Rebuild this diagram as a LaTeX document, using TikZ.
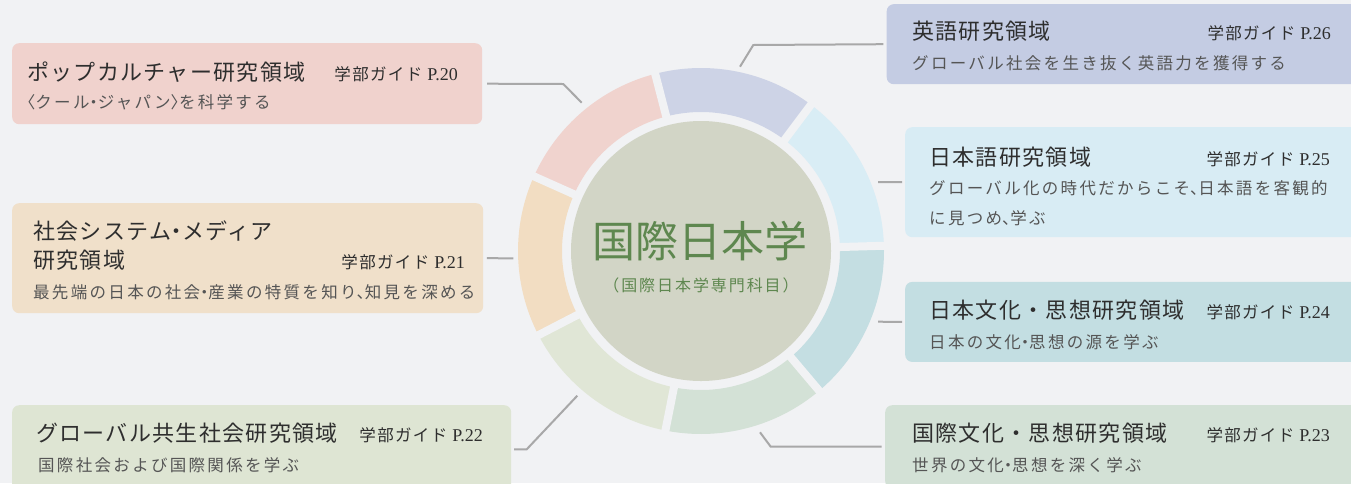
\documentclass[tikz,border=0pt]{standalone}
\usepackage{fontspec}
\newfontfamily\jp{Noto Sans CJK JP}
\newfontfamily\jpsub[LetterSpace=14]{Noto Sans CJK JP}
\newfontfamily\jpttl[LetterSpace=6]{Noto Sans CJK JP}
\newfontfamily\jpgd[LetterSpace=8]{Noto Sans CJK JP}
\newfontfamily\jpcs[LetterSpace=12]{Noto Sans CJK JP}
\newfontfamily\lat{Liberation Serif}
\newcommand\hw[1]{{\addfontfeature{RawFeature=+halt}#1}}
\newcommand\pg[1]{{\lat\fontsize{18}{20}\selectfont #1}}
\definecolor{bgc}{HTML}{F1F2F4}
\definecolor{popbox}{HTML}{F0D2CD}
\definecolor{popseg}{HTML}{F0D3CE}
\definecolor{socbox}{HTML}{F0E0CA}
\definecolor{socseg}{HTML}{F2DDC2}
\definecolor{glbox}{HTML}{DEE5D3}
\definecolor{glseg}{HTML}{E0E6D6}
\definecolor{enbox}{HTML}{C4CCE3}
\definecolor{enseg}{HTML}{CDD3E6}
\definecolor{jlbox}{HTML}{D8ECF4}
\definecolor{jlseg}{HTML}{D9EDF5}
\definecolor{jcbox}{HTML}{C3DEE2}
\definecolor{jcseg}{HTML}{C4DEE2}
\definecolor{icbox}{HTML}{D3E1D6}
\definecolor{icseg}{HTML}{D3E1D6}
\definecolor{disc}{HTML}{D2D5C6}
\definecolor{greentxt}{HTML}{5E874F}
\definecolor{titlec}{HTML}{2E2E2E}
\definecolor{subc}{HTML}{555555}
\definecolor{connc}{HTML}{A8A8A8}
\begin{document}
\begin{tikzpicture}[x=1pt,y=-1pt,
  box/.style={rounded corners=7pt, inner sep=0pt, anchor=north west, draw=none},
  ttl/.style={anchor=base west, inner sep=0pt, text=titlec, font=\jpttl\fontsize{22}{26}\selectfont},
  guide/.style={anchor=base east, inner sep=0pt, text=titlec, font=\jpgd\fontsize{16.5}{18}\selectfont},
  sub/.style={anchor=base west, inner sep=0pt, text=subc, font=\jpsub\fontsize{16.5}{20}\selectfont},
  conn/.style={draw=connc, line width=2pt, line join=miter}]
\useasboundingbox (0,0) rectangle (1351,483);
\clip (0,0) rectangle (1351,483);
\fill[bgc] (0,0) rectangle (1351,483);

% ring
\begin{scope}[shift={(701,251)}, x=1pt, y=1pt]
\foreach \i/\col in {0/enseg,1/jlseg,2/jcseg,3/icseg,4/glseg,5/socseg,6/popseg}{
  \pgfmathsetmacro\sa{104.5-51.4286*\i}
  \pgfmathsetmacro\ea{\sa-51.4286}
  \fill[\col] (\sa:183) arc[start angle=\sa, end angle=\ea, radius=183]
     -- (\ea:139) arc[start angle=\ea, end angle=\sa, radius=139] -- cycle;
}
\foreach \i in {0,...,6}{
  \pgfmathsetmacro\sa{104.5-51.4286*\i}
  \draw[bgc, line width=8pt] (\sa:132) -- (\sa:190);
}
\fill[disc] (0,0) circle[radius=130];
\end{scope}
\node[inner sep=0pt, anchor=base, text=greentxt, font=\jp\fontsize{43}{46}\selectfont] (core) at (700,257.5) {国際日本学};
\node[inner sep=0pt, anchor=base, text=greentxt, font=\jpcs\fontsize{16}{18}\selectfont] (coresub) at (701,291) {（国際日本学専門科目）};

% boxes
\node[box, fill=popbox, minimum width=470pt, minimum height=81pt] (pop) at (12,43) {};
\node[box, fill=socbox, minimum width=471pt, minimum height=110pt] (soc) at (12,203) {};
\node[box, fill=glbox, minimum width=499pt, minimum height=89pt] (gl) at (12,405) {};
\node[box, fill=enbox, minimum width=490pt, minimum height=80pt] (en) at (886.5,4) {};
\node[box, fill=jlbox, minimum width=470pt, minimum height=110pt] (jl) at (905,127) {};
\node[box, fill=jcbox, minimum width=470pt, minimum height=80pt] (jc) at (905,281.7) {};
\node[box, fill=icbox, minimum width=490pt, minimum height=83pt] (ic) at (885,405) {};

% texts
\node[ttl] (popt) at (27,80) {ポップカルチャー研究領域};
\node[guide] (popg) at (458,80) {学部ガイド \pg{P.20}};
\node[sub] (pops) at (27,108.5) {\hw{〈}クール\hw{・}ジャパン\hw{〉}を科学する};

\node[ttl] (soct1) at (33,239.4) {社会システム\hw{・}メディア};
\node[ttl] (soct2) at (33,268.4) {研究領域};
\node[guide] (socg) at (465,268.4) {学部ガイド \pg{P.21}};
\node[sub] (socs) at (33,298.5) {最先端の日本の社会\hw{・}産業の特質を知り\hw{、}知見を深める};

\node[ttl] (glt) at (36,441.4) {グローバル共生社会研究領域};
\node[guide] (glg) at (483,441.4) {学部ガイド \pg{P.22}};
\node[sub] (gls) at (38,471.5) {国際社会および国際関係を学ぶ};

\node[ttl] (ent) at (912,39.4) {英語研究領域};
\node[guide] (eng) at (1331,39.4) {学部ガイド \pg{P.26}};
\node[sub] (ens) at (912,69) {グローバル社会を生き抜く英語力を獲得する};

\node[ttl] (jlt) at (929,165.4) {日本語研究領域};
\node[guide] (jlg) at (1330,165.4) {学部ガイド \pg{P.25}};
\node[sub] (jls1) at (929,194.5) {グローバル化の時代だからこそ\hw{、}日本語を客観的};
\node[sub] (jls2) at (929,224.5) {に見つめ\hw{、}学ぶ};

\node[ttl] (jct) at (929,318.4) {日本文化・思想研究領域};
\node[guide] (jcg) at (1330,318.4) {学部ガイド \pg{P.24}};
\node[sub] (jcs) at (929,348.5) {日本の文化\hw{・}思想の源を学ぶ};

\node[ttl] (ict) at (912,441.4) {国際文化・思想研究領域};
\node[guide] (icg) at (1330,441.4) {学部ガイド \pg{P.23}};
\node[sub] (ics) at (912,471.5) {世界の文化\hw{・}思想を深く学ぶ};

% connector coordinates
\coordinate (popk) at (563.3,84);
\coordinate (popr) at (581.7,102.7);
\coordinate (socr) at (513.3,258.3);
\coordinate (glk) at (526.7,449.3);
\coordinate (glr) at (577.3,395.7);
\coordinate (enk) at (753.3,45);
\coordinate (enr) at (740,66.7);
\coordinate (jlr) at (878,182);
\coordinate (jcr) at (878,321.7);
\coordinate (ick) at (770.7,446.7);
\coordinate (icr) at (760,432.3);

\draw[conn] ([xshift=4.7pt]pop.east) -- (popk) -- (popr);
\draw[conn] ([xshift=3.5pt]soc.east) -- (socr);
\draw[conn] ([xshift=3pt]gl.west |- glk) ++(499pt,0) -- (glk) -- (glr);
\draw[conn] ([xshift=-3.2pt]en.west) -- (enk) -- (enr);
\draw[conn] ([xshift=-3pt]jl.west) -- (jlr);
\draw[conn] ([xshift=-3pt]jc.west) -- (jcr);
\draw[conn] ([xshift=-3.3pt]ic.west |- ick) -- (ick) -- (icr);
\end{tikzpicture}
\end{document}
